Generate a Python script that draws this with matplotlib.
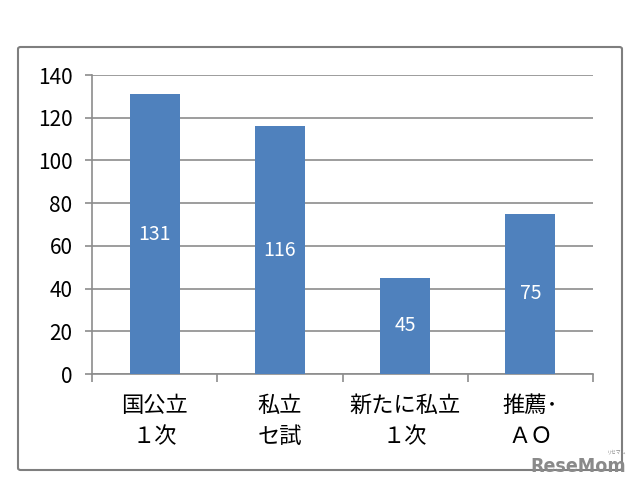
import matplotlib
matplotlib.use("Agg")
import matplotlib.pyplot as plt
from matplotlib.patches import FancyBboxPatch
import numpy as np

plt.rcParams['font.family'] = ['Noto Sans CJK JP', 'DejaVu Sans']

# data
categories = ["国公立\n１次", "私立\nセ試", "新たに私立\n１次", "推薦･\nＡＯ"]
values = [131, 116, 45, 75]
yticks = [0, 20, 40, 60, 80, 100, 120, 140]

bar_color = "#4F81BD"
grid_color = "#8C8C8C"

fig = plt.figure(figsize=(6.4, 4.9), dpi=100)

# outer frame of the chart (drawn behind the axes)
frame = FancyBboxPatch((18 / 640, 1 - 470 / 490), 604 / 640, 423 / 490,
                       boxstyle="round,pad=0,rounding_size=0.004",
                       transform=fig.transFigure, facecolor="white",
                       edgecolor="#7F7F7F", linewidth=1.5, zorder=-5)
fig.patches.append(frame)

ax = fig.add_axes([92 / 640, 1 - 374 / 490, 501 / 640, 299 / 490])
ax.set_facecolor("none")

x = np.arange(len(categories))
bars = ax.bar(x, values, width=0.4, color=bar_color, zorder=3)

for b, v in zip(bars, values):
    ax.text(b.get_x() + b.get_width() / 2, v / 2, str(v), ha="center", va="center",
            color="white", fontsize=14, zorder=4)

ax.set_xlim(-0.5, len(categories) - 0.5)
ax.set_ylim(0, 140)
ax.set_yticks(yticks)
ax.yaxis.grid(True, color=grid_color, linewidth=1.2, zorder=0)
ax.set_axisbelow(True)
ax.tick_params(axis="y", length=5, width=1.2, color=grid_color, labelsize=15, pad=9)

# category labels between boundary ticks
ax.set_xticks(np.arange(-0.5, len(categories), 1.0))
ax.set_xticklabels([])
ax.tick_params(axis="x", length=6, width=1.2, color=grid_color)
for xi, lab in zip(x, categories):
    ax.text(xi, -9.5, lab, ha="center", va="top", fontsize=16,
            linespacing=1.45, clip_on=False)

for s in ["top", "right"]:
    ax.spines[s].set_visible(False)
ax.spines["left"].set_color(grid_color)
ax.spines["bottom"].set_color(grid_color)
ax.spines["left"].set_linewidth(1.2)
ax.spines["bottom"].set_linewidth(1.2)

# watermark
fig.text(626 / 640, 1 - 466 / 490, "ReseMom", ha="right", va="center",
         fontsize=14, fontweight="bold", color="#8A8A8A", family="DejaVu Sans",
         fontstretch="condensed")
fig.text(617 / 640, 1 - 452 / 490, "リセマム", ha="center", va="center",
         fontsize=3.5, color="#8A8A8A")

fig.savefig("out.png", dpi=100)
